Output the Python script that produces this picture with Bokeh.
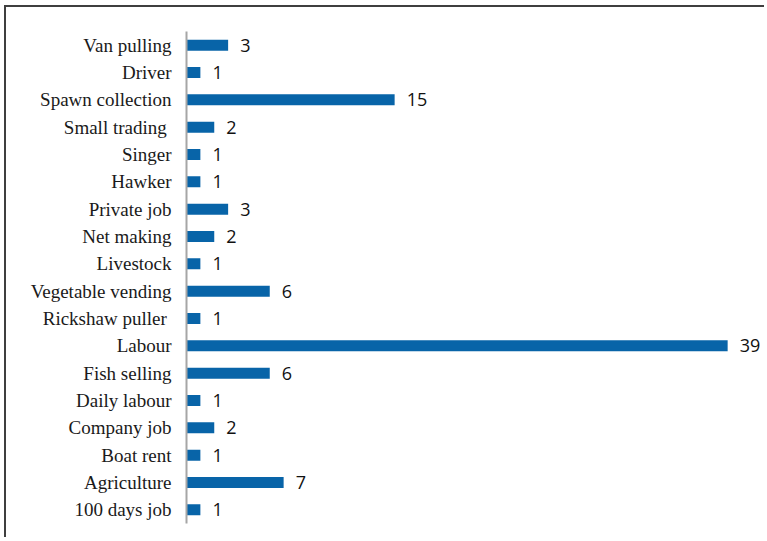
from bokeh.plotting import figure
from bokeh.models import ColumnDataSource, FactorRange, Range1d, LabelSet
from bokeh.core.properties import value
from bokeh.embed import file_html
from bokeh.resources import INLINE

categories = ["Van pulling", "Driver", "Spawn collection", "Small trading ", "Singer",
              "Hawker", "Private job", "Net making", "Livestock", "Vegetable vending",
              "Rickshaw puller ", "Labour", "Fish selling", "Daily labour", "Company job",
              "Boat rent", "Agriculture", "100 days job"]
values = [3, 1, 15, 2, 1, 1, 3, 2, 1, 6, 1, 39, 6, 1, 2, 1, 7, 1]

src = ColumnDataSource(dict(cat=categories, val=values, lab=[str(v) for v in values]))

p = figure(width=760, height=532, output_backend="svg", toolbar_location=None,
           y_range=FactorRange(factors=list(reversed(categories)), range_padding=0),
           x_range=Range1d(0, 41.8),
           min_border_left=180, min_border_right=0, min_border_top=24, min_border_bottom=16,
           styles={"margin-top": "5px", "margin-left": "4px",
                   "border-top": "2px solid #3f3f3f", "border-left": "2px solid #3f3f3f"})

p.hbar(y="cat", left=0, right="val", height=0.4, source=src,
       fill_color="#0864A8", line_color=None)

labels = LabelSet(x="val", y="cat", text="lab", source=src, x_offset=12,
                  text_baseline="middle", text_align="left",
                  text_font=value("Open Sans"), text_font_size="18px", text_color="#111111")
p.add_layout(labels)

p.xaxis.visible = False
p.xgrid.visible = False
p.ygrid.visible = False
p.outline_line_color = None

ya = p.yaxis[0]
ya.axis_line_color = "#a6a6a6"
ya.axis_line_width = 2
ya.major_tick_line_color = None
ya.minor_tick_line_color = None
ya.major_tick_out = 0
ya.major_tick_in = 0
ya.major_label_standoff = 15
ya.major_label_text_font = "Liberation Serif"
ya.major_label_text_font_size = "19px"
ya.major_label_text_color = "#1a1a1a"

open("out.html", "w").write(file_html(p, INLINE))
